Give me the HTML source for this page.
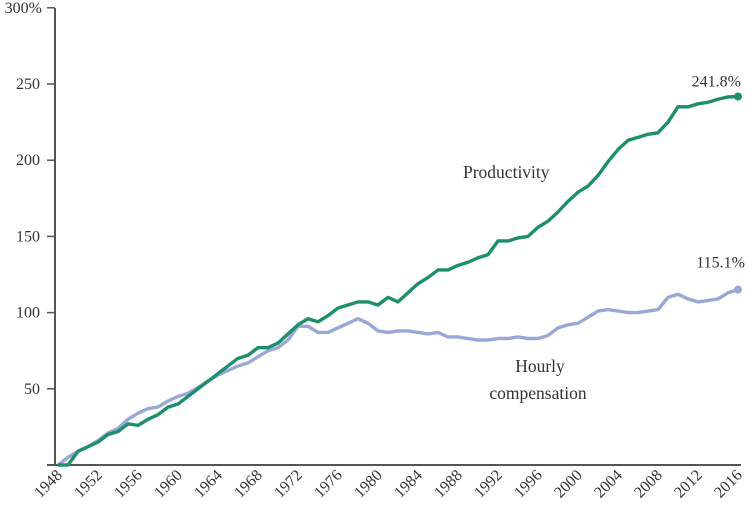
<!DOCTYPE html>
<html><head><meta charset="utf-8"><style>
body{margin:0;background:#fff;width:754px;height:515px;overflow:hidden}
svg text{font-family:"Liberation Serif",serif;fill:#333}
</style></head><body>
<svg id="chart" width="754" height="515" xmlns="http://www.w3.org/2000/svg"></svg>
<script>
const years=[];for(let y=1948;y<=2016;y++)years.push(y);
const productivity=[0,0,9,12,15,20,22,27,26,30,33,38,40,45,50,55,60,65,70,72,77,77,80,86,92,96,94,98,103,105,107,107,105,110,107,113,119,123,128,128,131,133,136,138,147,147,149,150,156,160,166,173,179,183,190,199,207,213,215,217,218,225,235,235,237,238,240,241.5,241.8];
const compensation=[0,5,9,12,16,21,24,30,34,37,38,42,45,47,51,55,59,62,65,67,71,75,77,82,91,91,87,87,90,93,96,93,88,87,88,88,87,86,87,84,84,83,82,82,83,83,84,83,83,85,90,92,93,97,101,102,101,100,100,101,102,110,112,109,107,108,109,113,115.1];
const yTicks=[50,100,150,200,250,300];
const xTicks=[1948,1952,1956,1960,1964,1968,1972,1976,1980,1984,1988,1992,1996,2000,2004,2008,2012,2016];
const NS="http://www.w3.org/2000/svg",svg=document.getElementById('chart');
const X=y=>58+(y-1948)*10, Y=v=>465-v*1.524;
function el(t,a,txt){const e=document.createElementNS(NS,t);for(const k in a)e.setAttribute(k,a[k]);if(txt!==undefined)e.textContent=txt;svg.appendChild(e);return e;}
let e=el('line',{x1:55,y1:8,x2:55,y2:465,stroke:'#555','stroke-width':2});

e=el('line',{x1:47,y1:465,x2:741,y2:465,stroke:'#555','stroke-width':2});

yTicks.forEach(v=>{
 let t=el('line',{x1:47,y1:Y(v),x2:55,y2:Y(v),stroke:'#555','stroke-width':1.5});
 
 let l=el('text',{x:v===300?42:40,y:Y(v)+5,'text-anchor':'end','font-size':16},v===300?'300%':String(v));
 
});
xTicks.forEach(yr=>{
 let l=el('text',{x:0,y:0,'text-anchor':'end','font-size':16,transform:`translate(${X(yr)+5},${476}) rotate(-45)`},String(yr));
 
});
function line(vals,color,name){
 const d=vals.map((v,i)=>(i?'L':'M')+X(years[i])+','+Y(v)).join('');
 let p=el('path',{d:d,fill:'none',stroke:color,'stroke-width':3.4,'stroke-linejoin':'round'});
 
 let n=vals.length-1;
 let c=el('circle',{cx:X(years[n]),cy:Y(vals[n]),r:4,fill:color});
 
}
line(compensation,'#9aa8d6','compensation-line');
line(productivity,'#1c8f6c','productivity-line');
let t=el('text',{x:741,y:Y(productivity[productivity.length-1])-10,'text-anchor':'end','font-size':16},productivity[productivity.length-1].toFixed(1)+'%');

t=el('text',{x:745,y:Y(compensation[compensation.length-1])-22,'text-anchor':'end','font-size':16},compensation[compensation.length-1].toFixed(1)+'%');

t=el('text',{x:463,y:178,'font-size':17.5},'Productivity');

t=el('text',{x:540,y:372,'text-anchor':'middle','font-size':17.5},'Hourly');

t=el('text',{x:538,y:399,'text-anchor':'middle','font-size':17.5},'compensation');

</script>
</body></html>
